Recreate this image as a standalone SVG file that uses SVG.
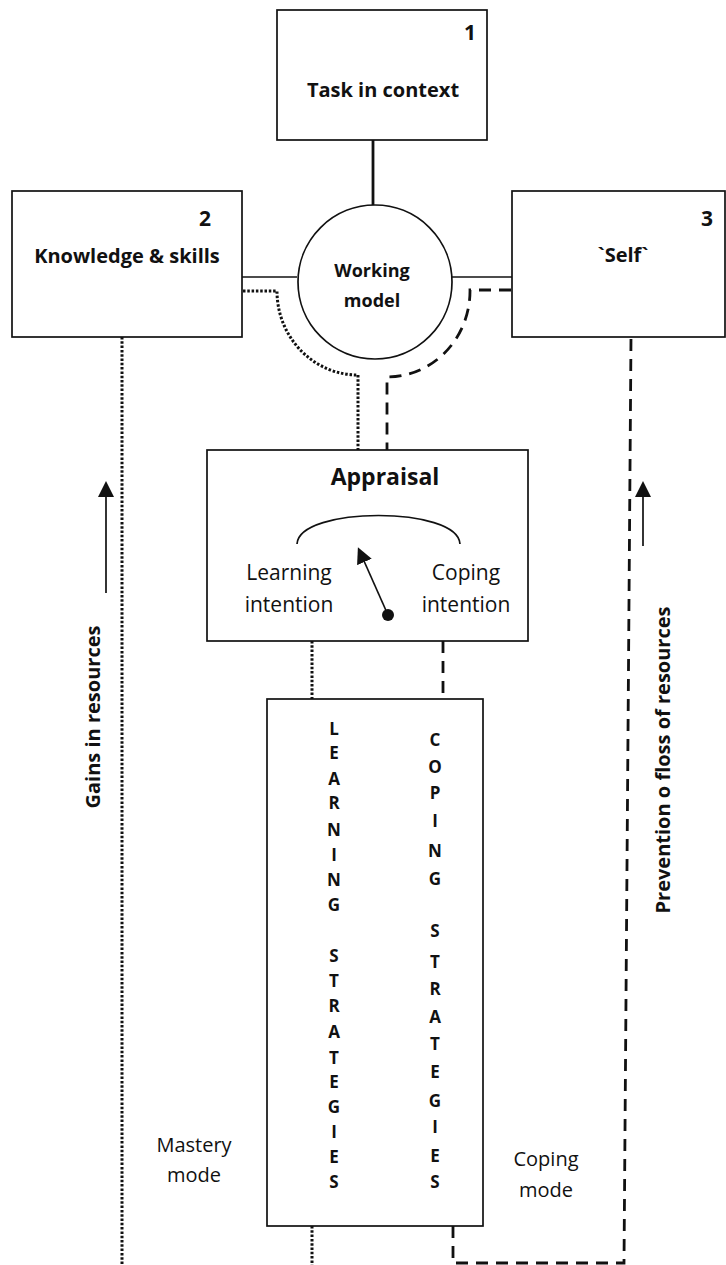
<svg xmlns="http://www.w3.org/2000/svg" width="726" height="1265" viewBox="0 0 726 1265">
  <style>
    .box { fill: #fff; stroke: #111; stroke-width: 1.7; }
    .solid { fill: none; stroke: #111; stroke-width: 1.7; }
    .thick { fill: none; stroke: #111; stroke-width: 2.8; }
    .dotted { fill: none; stroke: #111; stroke-width: 3; stroke-dasharray: 2.5 1.8; }
    .dashed { fill: none; stroke: #111; stroke-width: 2.8; stroke-dasharray: 12 8; }
    text { font-family: "Open Sans", "Noto Sans", sans-serif; fill: #111; text-anchor: middle; }
    .b { font-weight: bold; }
    .num { font-weight: bold; font-size: 21px; }
    .title { font-weight: bold; font-size: 20px; }
    .reg { font-size: 21px; }
    .mode { font-size: 20px; }
    .letter { font-weight: bold; font-size: 17px; }
    .side { font-weight: bold; font-size: 20px; }
  </style>
  <defs>
    <marker id="head" viewBox="0 0 16 16" refX="1" refY="8" markerWidth="16" markerHeight="16" markerUnits="userSpaceOnUse" orient="auto">
      <path d="M0,0 L16,8 L0,16 z" fill="#111"/>
    </marker>
  </defs>

  <!-- connectors -->
  <g id="connectors">
    <line class="thick" x1="373" y1="140" x2="373" y2="205"/>
    <line class="solid" x1="242" y1="277" x2="297" y2="277"/>
    <line class="solid" x1="452" y1="277" x2="512" y2="277"/>
    <!-- knowledge route (dotted) -->
    <path class="dotted" d="M243,291 L277,291 A81,84 0 0 0 358,375 L358,450"/>
    <line class="dotted" x1="312" y1="641" x2="312" y2="699"/>
    <line class="dotted" x1="312" y1="1226" x2="312" y2="1265"/>
    <line class="dotted" x1="122" y1="337" x2="122" y2="1265"/>
    <!-- self route (dashed) -->
    <path class="dashed" d="M511,290 L470,290 A83,86 0 0 1 387,377 L387,450"/>
    <line class="dashed" x1="443" y1="641" x2="443" y2="699"/>
    <path class="dashed" d="M453,1226 L453,1263 L624,1263 L631,337"/>
    <!-- direction arrows -->
    <line class="solid" x1="106" y1="593" x2="106" y2="496" marker-end="url(#head)"/>
    <line class="solid" x1="643" y1="546" x2="643" y2="496" marker-end="url(#head)"/>
  </g>

  <g id="task">
    <rect class="box" x="277" y="10" width="210" height="130"/>
    <text class="num" x="470" y="40">1</text>
    <text class="title" x="383" y="97">Task in context</text>
  </g>

  <g id="knowledge">
    <rect class="box" x="12" y="191" width="230" height="146"/>
    <text class="num" x="205" y="226">2</text>
    <text class="title" x="127" y="263">Knowledge &amp; skills</text>
  </g>

  <g id="self">
    <rect class="box" x="512" y="191" width="213" height="146"/>
    <text class="num" x="707" y="226">3</text>
    <text class="title" x="623" y="262">`Self`</text>
  </g>

  <g id="working-model">
    <circle class="box" cx="375" cy="282" r="77"/>
    <text class="b" font-size="18" x="372" y="277">Working</text>
    <text class="b" font-size="18" x="372" y="307">model</text>
  </g>

  <g id="appraisal">
    <rect class="box" x="207" y="450" width="321" height="191"/>
    <text class="b" font-size="23" x="385" y="485">Appraisal</text>
    <path class="solid" d="M297,544 C299,506 458,506 460,544"/>
    <line class="solid" x1="388" y1="615" x2="364" y2="561" marker-end="url(#head)"/>
    <circle cx="388" cy="615" r="6" fill="#111"/>
    <text class="reg" x="289" y="580">Learning</text>
    <text class="reg" x="289" y="612">intention</text>
    <text class="reg" x="466" y="580">Coping</text>
    <text class="reg" x="466" y="612">intention</text>
  </g>

  <g id="strategies">
    <rect class="box" x="267" y="699" width="216" height="527"/>
    <g class="letter-col">
      <text class="letter" x="334" y="735">L</text>
      <text class="letter" x="334" y="759">E</text>
      <text class="letter" x="334" y="785">A</text>
      <text class="letter" x="334" y="809">R</text>
      <text class="letter" x="334" y="836">N</text>
      <text class="letter" x="334" y="861">I</text>
      <text class="letter" x="334" y="886">N</text>
      <text class="letter" x="334" y="911">G</text>
      <text class="letter" x="334" y="962">S</text>
      <text class="letter" x="334" y="987">T</text>
      <text class="letter" x="334" y="1012">R</text>
      <text class="letter" x="334" y="1038">A</text>
      <text class="letter" x="334" y="1064">T</text>
      <text class="letter" x="334" y="1088">E</text>
      <text class="letter" x="334" y="1113">G</text>
      <text class="letter" x="334" y="1138">I</text>
      <text class="letter" x="334" y="1163">E</text>
      <text class="letter" x="334" y="1188">S</text>
    </g>
    <g class="letter-col">
      <text class="letter" x="435" y="746">C</text>
      <text class="letter" x="435" y="773">O</text>
      <text class="letter" x="435" y="799">P</text>
      <text class="letter" x="435" y="827">I</text>
      <text class="letter" x="435" y="857">N</text>
      <text class="letter" x="435" y="885">G</text>
      <text class="letter" x="435" y="937">S</text>
      <text class="letter" x="435" y="968">T</text>
      <text class="letter" x="435" y="995">R</text>
      <text class="letter" x="435" y="1023">A</text>
      <text class="letter" x="435" y="1050">T</text>
      <text class="letter" x="435" y="1078">E</text>
      <text class="letter" x="435" y="1107">G</text>
      <text class="letter" x="435" y="1133">I</text>
      <text class="letter" x="435" y="1162">E</text>
      <text class="letter" x="435" y="1188">S</text>
    </g>
  </g>

  <g id="mastery-mode">
    <text class="mode" x="194" y="1152">Mastery</text>
    <text class="mode" x="194" y="1182">mode</text>
  </g>

  <g id="coping-mode">
    <text class="mode" x="546" y="1166">Coping</text>
    <text class="mode" x="546" y="1197">mode</text>
  </g>

  <g id="gains-label">
    <text class="side" transform="translate(100,717) rotate(-90)">Gains in resources</text>
  </g>

  <g id="prevention-label">
    <text class="side" transform="translate(670,760) rotate(-90)">Prevention o floss of resources</text>
  </g>
</svg>
